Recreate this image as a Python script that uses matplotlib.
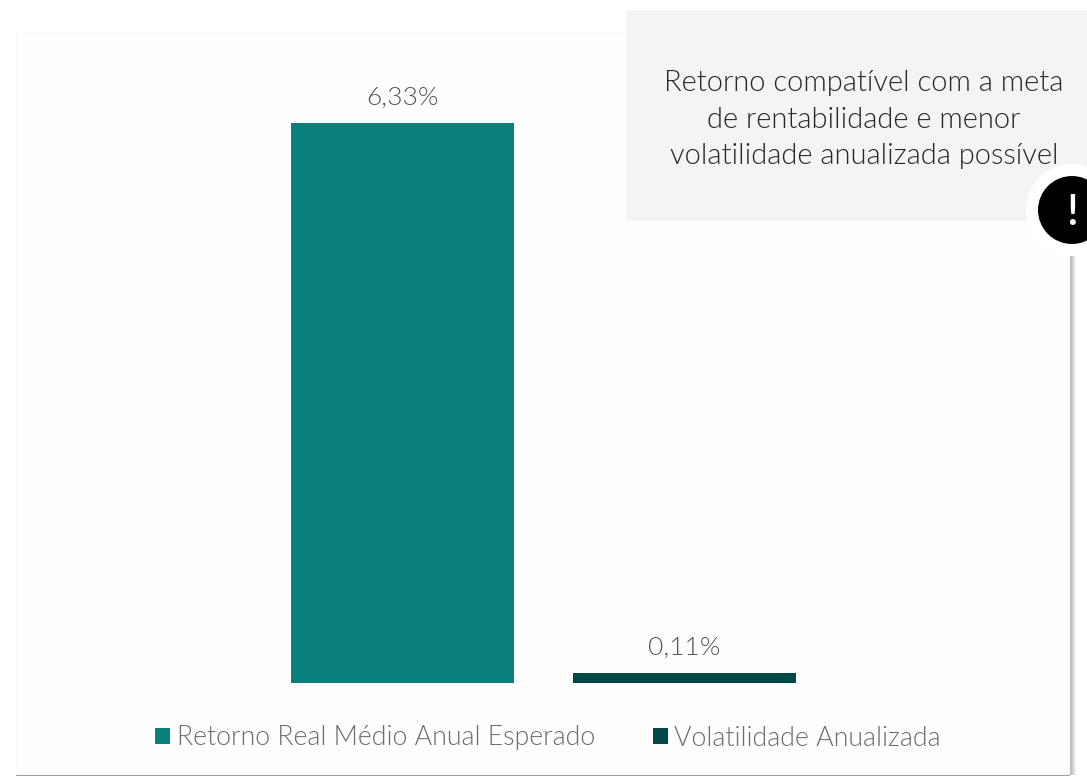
# -*- coding: utf-8 -*-
import numpy as np
import matplotlib
matplotlib.use("Agg")
import matplotlib.pyplot as plt
from matplotlib.patches import Rectangle, Circle

# Datos de la grafica
series = ["Retorno Real Médio Anual Esperado", "Volatilidade Anualizada"]
valores = [6.33, 0.11]
rotulos = ["6,33%", "0,11%"]
cores = ["#0a807c", "#024848"]
nota = "Retorno compatível com a meta\nde rentabilidade e menor\nvolatilidade anualizada possível"

W, H = 1087, 776
plt.rcParams["font.family"] = ["Lato", "DejaVu Sans"]

fig = plt.figure(figsize=(W / 100, H / 100), dpi=100, facecolor="white")

# Capa de fondo en pixeles: tarjeta y sombra
fondo = fig.add_axes([0, 0, 1, 1], zorder=0)
fondo.set_xlim(0, W)
fondo.set_ylim(H, 0)
fondo.axis("off")
fondo.add_patch(Rectangle((16, 33), 1053, 742, facecolor="#fefefe", edgecolor="#fbfbfb", lw=1))
sombra = np.linspace(0, 1, 8).reshape(1, -1)
fondo.imshow(sombra, extent=(1069, 1077, 775, 256), cmap="gray", vmin=-1.9, vmax=1,
             aspect="auto", interpolation="bilinear")
fondo.set_xlim(0, W)
fondo.set_ylim(H, 0)
fondo.plot([17, 1069], [775.5, 775.5], color="#a0a0a0", lw=1.5)

# Barras
ax = fig.add_axes([20 / W, (H - 683) / H, 1048 / W, 650 / H], zorder=1)
ax.patch.set_alpha(0)
x = np.arange(len(valores))
for i in x:
    ax.bar(i, valores[i], width=0.79, color=cores[i], label=series[i])
    ax.text(i, valores[i] + 0.29, rotulos[i], ha="center", va="center",
            fontsize=19, fontweight=300, color="#555555")
ax.set_xlim((20 - 402.5) / 282, (1068 - 402.5) / 282)
ax.set_ylim(0, 6.33 * 650 / 560)
ax.axis("off")

leg = fig.legend(loc="center", bbox_to_anchor=(548 / W, (H - 738) / H), ncol=2, frameon=False,
                 prop={"size": 19.25, "weight": 300}, handlelength=0.56, handleheight=0.56,
                 handletextpad=0.26, columnspacing=2.15, labelcolor="#6c6c6c")

# Capa superior: nota y circulo
capa = fig.add_axes([0, 0, 1, 1], zorder=2)
capa.set_xlim(0, W)
capa.set_ylim(H, 0)
capa.axis("off")
capa.add_patch(Rectangle((626, 10), 461, 211, facecolor="#f4f4f4", edgecolor="none"))
capa.text(864, 119.5, nota, ha="center", va="center", fontsize=21, fontweight=300,
          color="#262626", linespacing=1.48)
capa.add_patch(Circle((1072, 210), 46, facecolor="white", edgecolor="none"))
capa.add_patch(Circle((1072, 210), 34, facecolor="black", edgecolor="none"))
capa.text(1072, 225, "!", ha="center", va="baseline", fontsize=31, fontweight=600, color="white")

fig.savefig("out.png", dpi=100)
